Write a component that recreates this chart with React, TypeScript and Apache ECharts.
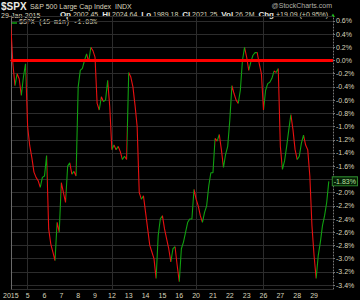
import React, { useEffect, useRef } from "react";
import * as echarts from "echarts";

// Trading days (January 2015), label shown under the start of each day
const dayLabels = ["2015", "5", "6", "7", "8", "9", "12", "13", "14", "15", "16", "20", "21", "22", "23", "26", "27", "28", "29"];
// Days that start a new week (vertical grid lines)
const weekStartDays = [1, 6, 11, 15];
const slotsPerDay = 8;
const extraSlots = 2;

// % change, sampled 8 times per trading day
const jan02 = [0.55, -0.05, -0.38, -0.2, -0.28, -0.53, -0.25, -0.05];
const jan05 = [-1.0, -1.29, -1.47, -1.69, -1.77, -1.82, -1.92, -1.77];
const jan06 = [-1.75, -1.44, -2.55, -2.78, -2.9, -3.03, -2.45, -2.6];
const jan07 = [-1.85, -2.0, -2.15, -1.6, -1.55, -1.72, -1.68, -1.75];
const jan08 = [-0.4, -0.15, -0.12, 0.0, 0.1, -0.02, 0.2, 0.15];
const jan09 = [0.05, -0.65, -0.75, -0.55, -0.62, -0.6, -0.3, -0.7];
const jan12 = [-1.35, -1.28, -1.35, -1.3, -1.38, -1.5, -1.45, -1.5];
const jan13 = [-0.18, -0.25, -0.4, -0.68, -1.0, -2.0, -2.1, -2.05];
const jan14 = [-2.3, -2.55, -2.8, -2.9, -3.0, -3.3, -2.65, -2.4];
const jan15 = [-2.35, -2.55, -2.7, -2.85, -3.05, -2.85, -2.82, -3.1];
const jan16 = [-3.35, -2.85, -2.75, -2.6, -2.45, -2.4, -2.4, -1.95];
const jan20 = [-2.1, -2.2, -2.35, -2.45, -2.3, -2.2, -1.9, -1.7];
const jan21 = [-1.7, -1.18, -1.22, -1.12, -1.35, -1.62, -1.42, -1.3];
const jan22 = [-0.9, -0.38, -0.5, -0.6, -0.65, -0.45, 0.0, 0.2];
const jan23 = [0.05, -0.15, -0.02, 0.08, 0.12, 0.12, -0.05, -0.2];
const jan26 = [-0.75, -0.45, -0.35, -0.33, -0.27, -0.16, -0.18, -0.12];
const jan27 = [-1.3, -1.65, -1.52, -1.3, -1.05, -0.82, -1.05, -1.35];
const jan28 = [-1.5, -1.45, -1.25, -1.13, -1.28, -1.35, -1.75, -2.5];
const jan29 = [-2.95, -3.3, -2.95, -2.75, -2.5, -2.35, -2.15, -1.83];

const yMin = -3.46;
const yMax = 0.674;
const refLevel = 0;

const UP = "#10a010";
const DOWN = "#e81010";
const TXT = "#d8d4bc";
const GRID = "#2c2c2c";
const FONT = "Liberation Sans, Arial, sans-serif";

export default function App() {
  const ref = useRef<HTMLDivElement>(null);
  useEffect(() => {
    if (!ref.current) return;
    const chart = echarts.init(ref.current, null, { renderer: "svg" });
    const values = [
      ...jan02, ...jan05, ...jan06, ...jan07, ...jan08, ...jan09, ...jan12, ...jan13, ...jan14, ...jan15,
      ...jan16, ...jan20, ...jan21, ...jan22, ...jan23, ...jan26, ...jan27, ...jan28, ...jan29,
    ];
    const nCat = dayLabels.length * slotsPerDay + extraSlots;
    const cats = Array.from({ length: nCat }, (_, i) => "c" + i);
    const weekIdx = weekStartDays.map((d) => d * slotsPerDay);

    // segment colours: green when rising, red when falling
    const pieces: any[] = [];
    for (let i = 0; i < values.length - 1; i++) {
      const color = values[i + 1] >= values[i] ? UP : DOWN;
      const last = pieces[pieces.length - 1];
      if (last && last.color === color) last.lt = i + 1;
      else pieces.push({ gte: i, lt: i + 1, color });
    }
    pieces[pieces.length - 1].lt = nCat + 5;

    const lastVal = values[values.length - 1];
    // the last-value tag covers the axis label next to it
    const fmt = (v: number) =>
      Math.abs(v - lastVal) < 0.1 ? "" : (Math.abs(v) < 1e-9 ? 0 : v).toFixed(1) + "%";

    chart.setOption({
      animation: false,
      backgroundColor: "#000",
      grid: { left: 10, right: 27, top: 16, bottom: 11 },
      xAxis: {
        type: "category",
        data: cats,
        boundaryGap: false,
        axisLine: { show: true, lineStyle: { color: "#6a6a6a", width: 1 } },
        axisTick: { show: false },
        axisLabel: {
          interval: (i: number) => i % slotsPerDay === 0 && i < dayLabels.length * slotsPerDay,
          formatter: (_v: string, i: number) => dayLabels[Math.floor(i / slotsPerDay)] ?? "",
          color: TXT,
          fontSize: 7,
          fontFamily: FONT,
          margin: 3,
        },
        splitLine: {
          show: true,
          interval: (i: number) => weekIdx.includes(i),
          lineStyle: { color: GRID, width: 1 },
        },
      },
      yAxis: [
        {
          type: "value",
          position: "right",
          min: yMin,
          max: yMax,
          splitNumber: 20,
          minInterval: 0.2,
          maxInterval: 0.2,
          axisLine: { show: true, lineStyle: { color: "#777", type: [1, 2], width: 1 } },
          axisTick: { show: true, length: 2, inside: false, lineStyle: { color: "#777" } },
          axisLabel: {
            formatter: fmt,
            showMinLabel: false,
            showMaxLabel: false,
            color: TXT,
            fontSize: 7,
            fontFamily: FONT,
            margin: 3,
          },
          splitLine: { show: true, lineStyle: { color: GRID, width: 1 } },
        },
        {
          type: "value",
          position: "left",
          min: yMin,
          max: yMax,
          axisLine: { show: true, lineStyle: { color: "#6a6a6a", width: 1 } },
          axisTick: { show: false },
          axisLabel: { show: false },
          splitLine: { show: false },
        },
      ],
      visualMap: {
        type: "piecewise",
        show: false,
        dimension: 0,
        seriesIndex: 0,
        pieces,
      },
      series: [
        {
          type: "line",
          name: "$SPX (15 min)",
          data: values,
          yAxisIndex: 0,
          symbol: "none",
          lineStyle: { width: 1.1 },
          z: 3,
          endLabel: {
            show: true,
            formatter: () => lastVal.toFixed(2) + "%",
            distance: 4,
            color: "#b8e0a0",
            fontSize: 7,
            fontFamily: FONT,
            backgroundColor: "#062006",
            borderColor: "#2e8a2e",
            borderWidth: 1,
            padding: [1, 1, 0, 1],
          },
        },
        {
          type: "line",
          data: [],
          yAxisIndex: 0,
          z: 4,
          markLine: {
            silent: true,
            symbol: ["none", "none"],
            label: { show: false },
            lineStyle: { color: "#ff0000", width: 3, type: "solid" },
            data: [{ yAxis: refLevel }],
          },
        },
      ],
      graphic: [
        {
          type: "text",
          left: 1,
          top: 0,
          style: {
            text: "{a|$SPX} {b|S&P 500 Large Cap Index  INDX}",
            rich: {
              a: { fontSize: 10, lineHeight: 11, fontWeight: "bold", fill: "#ecece4", fontFamily: FONT },
              b: { fontSize: 7, lineHeight: 11, fill: TXT, fontFamily: FONT },
            },
          },
        },
        {
          type: "text",
          right: 28,
          top: 2,
          style: { text: "@StockCharts.com", fontSize: 7, fill: "#b0b0a8", fontFamily: FONT },
        },
        {
          type: "text",
          left: 1,
          top: 11,
          style: { text: "29-Jan-2015", fontSize: 7, lineHeight: 8, fill: TXT, fontFamily: FONT },
        },
        {
          type: "text",
          right: 24,
          top: 10,
          style: {
            text: "{b|Op} 2002.45  {b|Hi} 2024.64  {b|Lo} 1989.18  {b|Cl} 2021.25  {b|Vol} 26.2M  {b|Chg} +19.09 (+0.95%) {g|▲}",
            fontSize: 7,
            lineHeight: 9,
            fill: TXT,
            fontFamily: FONT,
            rich: {
              b: { fontSize: 8, lineHeight: 9, fontWeight: "bold", fill: "#e8e8e0", fontFamily: FONT },
              g: { fontSize: 6, lineHeight: 9, fill: "#20c020" },
            },
          },
        },
        {
          type: "line",
          shape: { x1: 12, y1: 23, x2: 17, y2: 23 },
          style: { stroke: UP, lineWidth: 1.5 },
        },
        {
          type: "text",
          left: 19,
          top: 19,
          style: { text: "$SPX (15 min) -1.83%", fontSize: 6.5, fill: TXT, fontFamily: "Liberation Mono, DejaVu Sans Mono, monospace" },
        },
      ],
    });
    return () => chart.dispose();
  }, []);
  return <div ref={ref} style={{ position: "fixed", left: 0, top: 0, width: 360, height: 300 }} />;
}
